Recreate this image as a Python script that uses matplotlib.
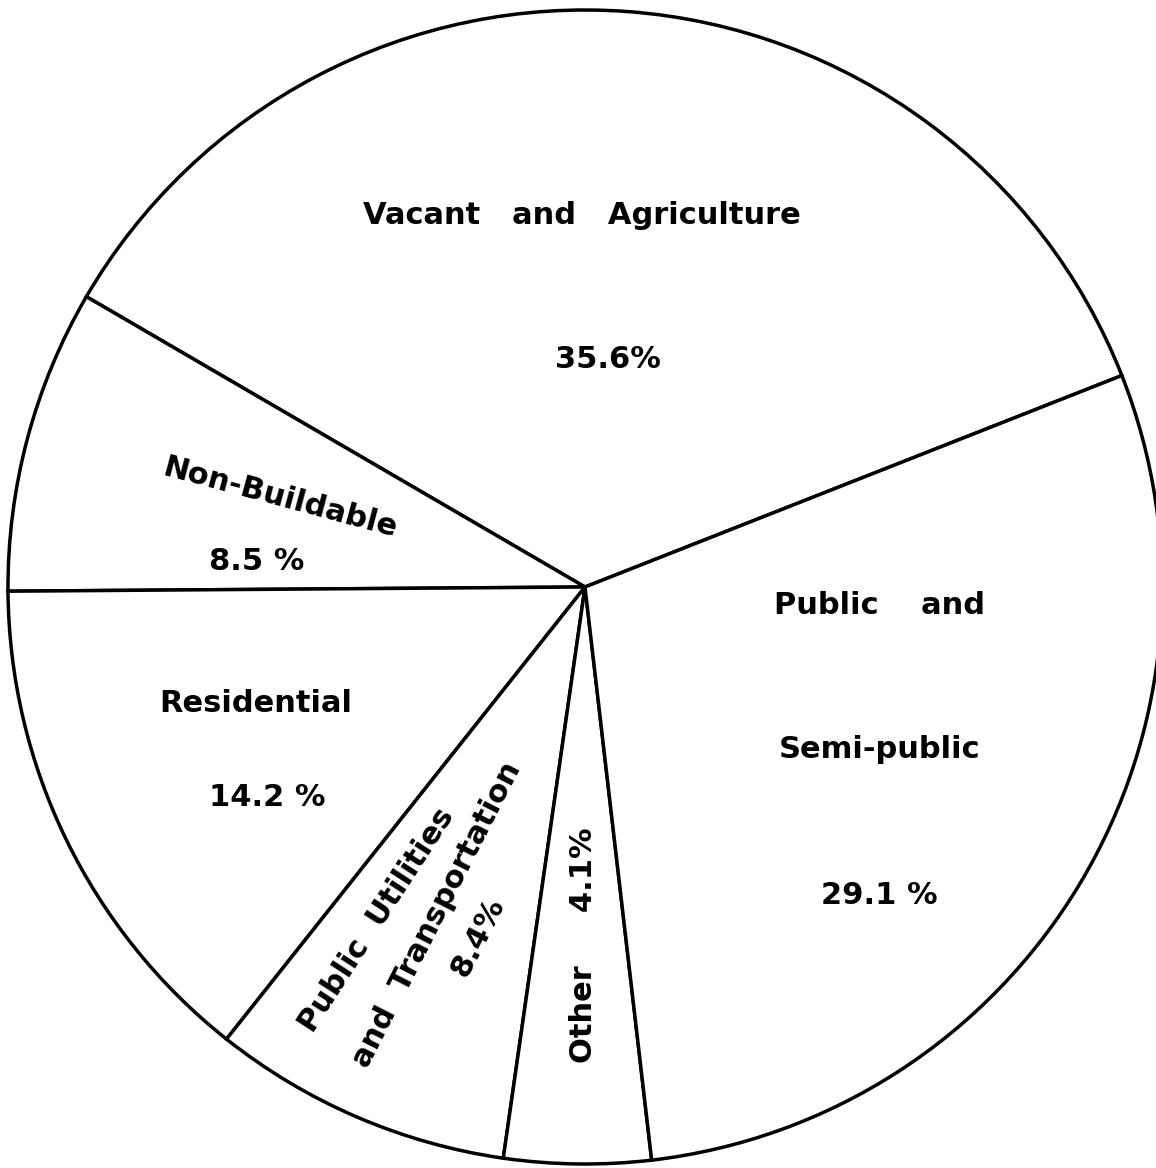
import matplotlib.pyplot as plt

# Land use shares (percent), counter-clockwise from the Vacant/Public boundary
categories = ["Vacant and Agriculture", "Non-Buildable", "Residential",
              "Public Utilities and Transportation", "Other", "Public and Semi-public"]
shares = [35.6, 8.5, 14.2, 8.4, 4.1, 29.1]

W, H = 1156, 1168
fig = plt.figure(figsize=(W / 100, H / 100), dpi=100)
ax = fig.add_axes([0, 0, 1, 1])

cx, cy, r = 585, H - 587, 577
ax.pie(shares, colors=["white"] * len(shares), startangle=21.5, counterclock=True,
       center=(cx, cy), radius=r,
       wedgeprops=dict(edgecolor="black", linewidth=2.5))
ax.set_xlim(0, W)
ax.set_ylim(0, H)
ax.set_aspect("equal")
ax.axis("off")

font = dict(family="DejaVu Sans", weight="bold", fontsize=22, color="black",
            ha="center", va="center", rotation_mode="anchor")


def label(x, y, s, rot=0, **kw):
    # x, y given in picture pixels (y from top)
    ax.text(x, H - y, s, rotation=rot, **{**font, **kw})


label(582, 216, "Vacant   and   Agriculture")
label(608, 360, f"{shares[0]}%")
label(280, 498, "Non-Buildable", rot=-15)
label(257, 561, f"{shares[1]} %")
label(256, 703, "Residential")
label(267, 797, f"{shares[2]} %")
label(377, 920, "Public  Utilities", rot=57)
label(437, 915, "and  Transportation", rot=63)
label(478, 937, f"{shares[3]}%", rot=63)
label(583, 945, f"Other     {shares[4]}%", rot=90)
label(879, 605, "Public    and")
label(880, 750, "Semi-public")
label(879, 895, f"{shares[5]} %")

fig.savefig("out.png", dpi=100, facecolor="white")
